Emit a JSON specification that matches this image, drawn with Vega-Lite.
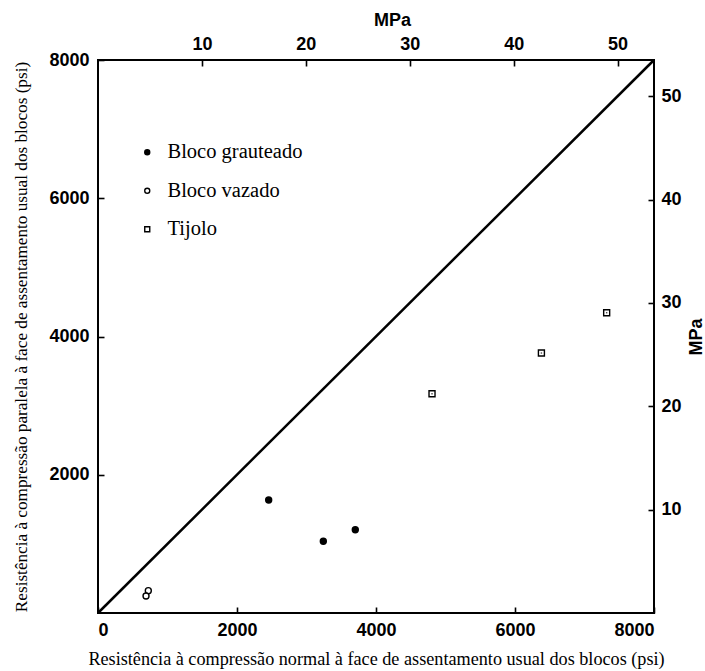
{
  "$schema": "https://vega.github.io/schema/vega-lite/v6.json",
  "autosize": {"type": "none"},
  "width": 556,
  "height": 553,
  "padding": {"left": 98, "top": 60, "right": 51, "bottom": 58},
  "background": "white",
  "config": {
    "view": {"stroke": "black", "strokeWidth": 2},
    "axis": {
      "domain": false,
      "ticks": true,
      "tickColor": "black",
      "tickWidth": 1.6,
      "tickSize": 6,
      "offset": -6,
      "grid": false,
      "format": "d",
      "labelFont": "Liberation Sans",
      "labelFontWeight": "bold",
      "labelFontSize": 18,
      "labelColor": "black",
      "titleColor": "black",
      "zindex": 1
    }
  },
  "layer": [
    {
      "data": {"values": [{"mpa": 0}, {"mpa": 53.5}]},
      "mark": {"type": "line", "color": "black", "strokeWidth": 2.5},
      "encoding": {
        "x": {
          "field": "mpa", "type": "quantitative",
          "scale": {"domain": [0, 53.5], "nice": false},
          "axis": {"orient": "top", "title": "MPa", "values": [10, 20, 30, 40, 50], "labelPadding": 7,
            "titleFont": "Liberation Sans", "titleFontWeight": "bold", "titleFontSize": 18, "titlePadding": 6, "titleX": 294}
        },
        "y": {
          "field": "mpa", "type": "quantitative",
          "scale": {"domain": [0, 53.5], "nice": false},
          "axis": {"orient": "right", "title": "MPa", "values": [10, 20, 30, 40, 50], "labelPadding": 7,
            "titleFont": "Liberation Sans", "titleFontWeight": "bold", "titleFontSize": 18, "titleAngle": 270, "titlePadding": 24}
        }
      }
    },
    {
      "data": {"values": [
        {"serie": "Bloco grauteado", "x": 2456, "y": 1635},
        {"serie": "Bloco grauteado", "x": 3242, "y": 1037},
        {"serie": "Bloco grauteado", "x": 3702, "y": 1205},
        {"serie": "Bloco vazado", "x": 724, "y": 323},
        {"serie": "Bloco vazado", "x": 691, "y": 246},
        {"serie": "Tijolo", "x": 4806, "y": 3172},
        {"serie": "Tijolo", "x": 6380, "y": 3761},
        {"serie": "Tijolo", "x": 7319, "y": 4344}
      ]},
      "layer": [
        {
          "mark": {"type": "point", "filled": false, "strokeWidth": 1.4, "size": 36, "opacity": 1},
          "encoding": {
            "x": {
              "field": "x", "type": "quantitative",
              "scale": {"domain": [0, 8000], "nice": false},
              "axis": {"orient": "bottom", "values": [0, 2000, 4000, 6000, 8000], "labelPadding": 8,
                "title": "Resistência à compressão normal à face de assentamento usual dos blocos (psi)",
                "titleFont": "Liberation Serif", "titleFontWeight": "normal", "titleFontSize": 18.2, "titlePadding": 11}
            },
            "y": {
              "field": "y", "type": "quantitative",
              "scale": {"domain": [0, 8000], "nice": false},
              "axis": {"orient": "left", "values": [2000, 4000, 6000, 8000], "labelPadding": 9,
                "title": "Resistência à compressão paralela à face de assentamento usual dos blocos (psi)",
                "titleFont": "Liberation Serif", "titleFontWeight": "normal", "titleFontSize": 17.2, "titlePadding": 18}
            },
            "shape": {
              "field": "serie", "type": "nominal",
              "scale": {"domain": ["Bloco grauteado", "Bloco vazado", "Tijolo"], "range": ["circle", "circle", "square"]},
              "legend": {
                "title": null, "orient": "none", "legendX": 39, "legendY": 82,
                "labelFont": "Liberation Serif", "labelFontSize": 20.5, "labelColor": "black",
                "labelOffset": 10, "rowPadding": 17.5, "symbolSize": 25, "symbolStrokeWidth": 1.4
              }
            },
            "fill": {
              "field": "serie", "type": "nominal",
              "scale": {"domain": ["Bloco grauteado", "Bloco vazado", "Tijolo"], "range": ["black", "white", "white"]}
            },
            "stroke": {
              "field": "serie", "type": "nominal",
              "scale": {"domain": ["Bloco grauteado", "Bloco vazado", "Tijolo"], "range": ["black", "black", "black"]}
            }
          }
        },
        {
          "transform": [{"filter": "datum.serie === 'Tijolo'"}],
          "mark": {"type": "point", "filled": true, "color": "black", "size": 2, "shape": "square"},
          "encoding": {
            "x": {"field": "x", "type": "quantitative"},
            "y": {"field": "y", "type": "quantitative"}
          }
        }
      ]
    }
  ],
  "resolve": {"scale": {"x": "independent", "y": "independent"}, "axis": {"x": "independent", "y": "independent"}}
}
